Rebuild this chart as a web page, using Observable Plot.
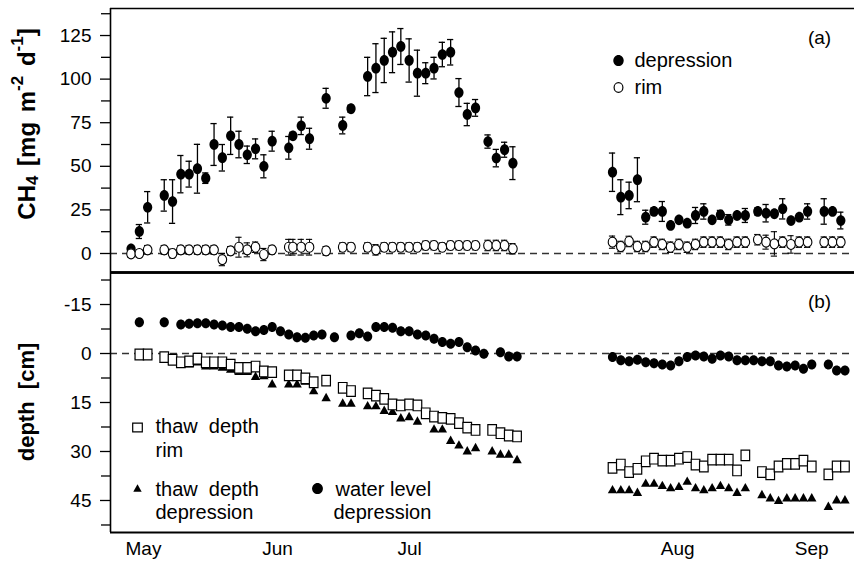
<!DOCTYPE html>
<html><head><meta charset="utf-8">
<script src="https://cdn.jsdelivr.net/npm/d3@7"></script>
<script src="https://cdn.jsdelivr.net/npm/@observablehq/plot@0.6"></script>
<style>
body{margin:0;background:#fff;}
#chart{width:854px;height:563px;position:relative;background:#fff;}
#chart svg{display:block;}
#chart text{white-space:pre;}
</style></head><body><div id="chart"></div>
<script>
// ---------- data (x = day index, 0 = label "May") ----------
const ch4Day = [-3,-1,1,5,7,9,11,13,15,17,19,21,23,25,27,29,31,35,36,38,40,44,48,50,54,56,58,60,62,64,66,68,70,72,74,76,78,80,83,85,87,89,
  113,115,117,119,121,123,125,127,129,131,133,135,137,139,141,143,145,148,150,152,154,156,158,160,164,166,168];
const ch4Dep = [2.7,12.6,26.5,33.3,29.8,45.5,45.5,48.6,43.2,62.5,54.9,67.5,62.5,56.6,60,50,64.4,60.6,67.5,73.2,65.8,89,73.4,83,101.5,106.3,110.7,115.4,118.7,110.7,103.4,103.4,106.3,114.1,115.4,92.3,79.7,83.5,64.2,54.7,59.5,51.8,
  46.6,32.3,33.3,42.3,20.8,24.1,24.1,16.1,19.3,17.4,21.8,24.1,19.3,22.2,19.3,21.8,21.8,24.1,23.1,22.8,25.6,18.9,20.8,24.1,24.1,24.1,18.9];
const ch4DepErr = [0,4,9,9,12.5,10.7,7.4,14,3,12,7.6,10.7,7.6,5,5.7,6.6,5.7,6.5,2,5,6,5.7,4.8,2,11,14,12.7,11.7,10.3,12.4,13.2,6,6.2,7,7.3,8,6.4,4.8,3.8,5,4.3,9.4,
  11,10,7.6,12.6,4,2,5.7,1,1,1,4.6,4.4,1,2.5,3,1,4,2,5,1,5.8,1,1,4.4,7.3,1,4.8];
const ch4Rim = [-0.2,0,2.1,2.1,0,2.1,2.1,2.1,2.1,2.1,-3.5,1.5,3.6,2.1,3.6,-0.6,2.1,3.6,3.6,3.6,3.6,1.5,3.6,3.6,3.6,2.1,3.6,3.6,3.6,3.6,3.6,4.6,4.6,3.6,4.6,4.6,4.6,4.6,4.6,4.6,4.6,2.7,
  6.5,4.0,6.9,4.0,4.0,6.5,5.2,3.6,5.2,3.6,5.2,6.5,6.5,6.5,5.2,6.5,6.5,7.9,6.5,5.5,6.5,5.2,6.5,6.5,6.5,6.5,6.5];
const ch4RimErr = [2,2,2.5,2.5,2.5,2.5,2.5,2.5,2.5,2.5,3.5,2.5,5.7,4,3,3.5,2.5,4.5,4.5,4.5,4.5,2.5,2.5,2.5,2.5,3,2.5,2.5,2.5,2.5,2.5,2.5,2.5,2.5,2.5,2.5,2.5,2.5,3,3,3,3,
  3.5,3,3,3,3,3,3,3,3,3,3,3,3,3,3,3,3,3,4,7,3,5,3,3,3,3,3];

const wlDay = [-1,5,9,11,13,15,17,19,21,23,25,27,29,31,33,35,37,39,41,43,46,50,52,54,56,58,60,62,64,66,68,70,72,74,76,78,80,82,86,88,90,
  113,115,117,119,121,123,125,127,129,131,133,135,137,139,141,143,145,147,149,151,153,155,157,159,161,165,167,169];
const wlDep = [-9.6,-9.6,-8.9,-9.1,-9.3,-9.3,-8.9,-8.6,-8.1,-8.1,-7.6,-6.8,-7.2,-8.1,-6.8,-5.8,-5.0,-4.8,-5.5,-5.8,-5.0,-5.5,-6.2,-5.2,-8.1,-8.1,-7.9,-6.8,-6.8,-5.8,-5.5,-4.5,-3.5,-3.0,-3.5,-1.9,-0.9,0.1,-0.4,0.9,0.9,
  1.1,2.1,2.4,1.9,2.7,3.0,3.4,3.7,2.4,1.1,0.6,0.9,1.6,0.6,0.9,2.1,2.1,2.1,2.4,2.4,3.7,4.0,3.7,4.7,3.4,3.4,5.2,5.2];

const thawRimDay = [-1,1,5,7,9,11,13,15,17,19,21,23,25,27,29,31,35,37,39,41,44,48,50,54,56,58,60,62,64,66,68,70,72,74,76,78,80,84,86,88,90,
  113,115,117,119,121,123,125,127,129,131,133,135,137,139,141,143,145,149,151,153,155,157,159,161,165,167,169];
const thawRim = [0.3,0.3,1.1,1.9,2.7,2.4,1.6,2.7,2.7,2.7,3.4,4.4,4.4,4.0,5.5,5.7,6.7,6.7,7.6,8.8,8.3,10.5,11.5,12.2,12.9,13.9,15.6,15.9,15.6,15.9,18.3,19.3,19.7,20.0,21.3,22.7,23.4,23.4,24.4,25.1,25.4,
  35.0,34.0,36.3,35.3,33.0,32.2,32.8,32.8,32.2,31.7,34.0,34.6,32.5,32.5,32.5,35.8,31.2,36.3,37.0,34.6,33.8,33.8,32.8,34.6,37.0,34.6,34.6];

const thawDepDay = [-1,1,5,7,9,11,13,15,17,19,21,23,25,27,29,31,35,37,39,41,44,48,50,54,56,58,60,62,64,66,70,72,74,76,78,80,84,86,88,90,
  113,115,117,119,121,123,125,127,129,131,133,135,137,139,141,143,145,149,151,153,155,157,159,161,165,167,169];
const thawDep = [0.6,0.6,1.8,2.6,3.2,3.2,2.6,3.8,3.8,4.2,4.8,5.5,5.5,7.0,6.8,9.3,9.3,9.3,8.5,11.4,13.5,15.2,15.2,16.0,16.0,17.4,17.7,19.7,19.3,20.7,23.1,23.1,26.6,28.0,29.8,28.8,29.8,30.8,30.8,32.5,
  41.7,41.7,41.7,42.5,39.7,39.7,40.4,41.1,40.7,39.1,41.1,41.7,41.1,40.4,41.1,42.5,41.1,43.2,44.2,45.0,44.2,44.2,44.2,44.2,46.8,44.8,44.8];

const monthLabels = ["May","Jun","Jul","Aug","Sep"];
const monthDays = [0,32.3,64.1,128.7,161];
const ch4Ticks = [0,25,50,75,100,125];
const ch4Minor = [12.5,37.5,62.5,87.5,112.5,137.5];
const depthTicks = [-15,0,15,30,45];
const depthMinor = [-22.5,-7.5,7.5,22.5,37.5,52.5];
const legendA = ["depression","rim"];
const legendB = [["thaw  depth","rim"],["thaw  depth","depression"],["water level","depression"]];

// ---------- layout ----------
const W = 854, ML = 110, FONT = "'Liberation Sans', Arial, sans-serif";
const xDomain = [-7.95, 171.3];
const ch4Domain = [-10.9, 140.5];
const depthDomain = [-24.8, 54.8];
const TOP_H = 272, BOT_H = 291, BOT_MB = 31;

// custom symbols
function ellipseSym(rx, ry) {
  const k = 0.5523;
  return {draw(c) {
    c.moveTo(rx, 0);
    c.bezierCurveTo(rx, ry*k, rx*k, ry, 0, ry);
    c.bezierCurveTo(-rx*k, ry, -rx, ry*k, -rx, 0);
    c.bezierCurveTo(-rx, -ry*k, -rx*k, -ry, 0, -ry);
    c.bezierCurveTo(rx*k, -ry, rx, -ry*k, rx, 0);
    c.closePath();
  }};
}
const dotSym = ellipseSym(4.6, 5.4);
const ringSym = ellipseSym(4.3, 5.0);
const wlSym = ellipseSym(4.6, 5.0);
const sqSym = {draw(c){ c.rect(-4.3, -5.3, 8.6, 10.6); }};
const triSym = {draw(c){ c.moveTo(0,-4.8); c.lineTo(4.7,3.6); c.lineTo(-4.7,3.6); c.closePath(); }};

const ch4Data = ch4Day.map((d,i)=>({day:d, dep:ch4Dep[i], depErr:ch4DepErr[i], rim:ch4Rim[i], rimErr:ch4RimErr[i]}));
const depErrData = ch4Data.filter(d=>d.depErr>0);
const wlData = wlDay.map((d,i)=>({day:d, v:wlDep[i]}));
const trData = thawRimDay.map((d,i)=>({day:d, v:thawRim[i]}));
const tdData = thawDepDay.map((d,i)=>({day:d, v:thawDep[i]}));
const CAP = 0.75;

const style = {fontFamily: FONT, fontSize: "19px", color: "#000", background: "#fff", overflow: "visible"};
const fmt = d => String(d);
const at = (px, py, top) => ({frameAnchor: "top-left", dx: px - ML, dy: py - top});

const topPlot = Plot.plot({
  width: W, height: TOP_H, marginTop: 8, marginBottom: 0, marginLeft: ML, marginRight: 0,
  x: {domain: xDomain, axis: null},
  y: {domain: ch4Domain},
  style,
  marks: [
    Plot.axisY({ticks: ch4Ticks, tickSize: 10, tickPadding: 9, tickFormat: fmt, label: null, fontSize: 19, strokeWidth: 1.3}),
    Plot.axisY({ticks: ch4Minor, tickSize: 9, tickFormat: () => "", label: null, strokeWidth: 1.3}),
    Plot.ruleY([0], {stroke: "#333", strokeDasharray: "7,5", strokeWidth: 1.3}),
    Plot.ruleY([ch4Domain[1]], {strokeWidth: 1.6}),
    Plot.ruleY([ch4Domain[0]], {strokeWidth: 2.4}),
    Plot.ruleX([xDomain[0]], {strokeWidth: 1.6}),
    // depression error bars
    Plot.ruleX(depErrData, {x: "day", y1: d => d.dep - d.depErr, y2: d => d.dep + d.depErr, strokeWidth: 1.3}),
    Plot.ruleY(depErrData, {y: d => d.dep + d.depErr, x1: d => d.day - CAP, x2: d => d.day + CAP, strokeWidth: 1.3}),
    Plot.ruleY(depErrData, {y: d => d.dep - d.depErr, x1: d => d.day - CAP, x2: d => d.day + CAP, strokeWidth: 1.3}),
    Plot.dot(ch4Data, {x: "day", y: "dep", symbol: dotSym, fill: "#000", stroke: "none"}),
    // rim error bars
    Plot.ruleX(ch4Data, {x: "day", y1: d => d.rim - d.rimErr, y2: d => d.rim + d.rimErr, strokeWidth: 1.1}),
    Plot.ruleY(ch4Data, {y: d => d.rim + d.rimErr, x1: d => d.day - CAP, x2: d => d.day + CAP, strokeWidth: 1.1}),
    Plot.ruleY(ch4Data, {y: d => d.rim - d.rimErr, x1: d => d.day - CAP, x2: d => d.day + CAP, strokeWidth: 1.1}),
    Plot.dot(ch4Data, {x: "day", y: "rim", symbol: ringSym, fill: "#fff", stroke: "#000", strokeWidth: 1.1}),
    // legend (a)
    Plot.dot([legendA[0]], {...at(618, 60, 8), symbol: ellipseSym(5.2, 5.6), fill: "#000", stroke: "none"}),
    Plot.dot([legendA[1]], {...at(618, 87, 8), symbol: ellipseSym(4.4, 4.8), fill: "#fff", stroke: "#000", strokeWidth: 1.2}),
    Plot.text([legendA[0]], {...at(634, 60, 8), text: d => d, textAnchor: "start", lineAnchor: "middle", fontSize: 20}),
    Plot.text([legendA[1]], {...at(634, 87, 8), text: d => d, textAnchor: "start", lineAnchor: "middle", fontSize: 20}),
    Plot.text(["(a)"], {...at(819, 37, 8), text: d => d, textAnchor: "middle", lineAnchor: "middle", fontSize: 19})
  ]
});

const monthMap = new Map(monthDays.map((d,i)=>[d, monthLabels[i]]));
const B = TOP_H;
const botPlot = Plot.plot({
  width: W, height: BOT_H, marginTop: 0, marginBottom: BOT_MB, marginLeft: ML, marginRight: 0,
  x: {domain: xDomain},
  y: {domain: depthDomain, reverse: true},
  style,
  marks: [
    Plot.axisY({ticks: depthTicks, tickSize: 10, tickPadding: 9, tickFormat: fmt, label: null, fontSize: 19, strokeWidth: 1.3}),
    Plot.axisY({ticks: depthMinor, tickSize: 9, tickFormat: () => "", label: null, strokeWidth: 1.3}),
    Plot.axisX({ticks: monthDays, tickFormat: d => monthMap.get(d), tickSize: 0, tickPadding: 9, label: null, fontSize: 19}),
    Plot.ruleY([0], {stroke: "#333", strokeDasharray: "7,5", strokeWidth: 1.3}),
    Plot.ruleY([depthDomain[0]], {strokeWidth: 2.4}),
    Plot.ruleY([depthDomain[1]], {strokeWidth: 2}),
    Plot.ruleX([xDomain[0]], {strokeWidth: 1.6}),
    Plot.dot(tdData, {x: "day", y: "v", symbol: triSym, fill: "#000", stroke: "none"}),
    Plot.dot(trData, {x: "day", y: "v", symbol: sqSym, fill: "#fff", stroke: "#000", strokeWidth: 1.2}),
    Plot.dot(wlData, {x: "day", y: "v", symbol: wlSym, fill: "#000", stroke: "none"}),
    // legend (b)
    Plot.dot([legendB[0][0]], {...at(137, 427, B), symbol: {draw(c){ c.rect(-4.8,-4.4,9.6,8.8); }}, fill: "#fff", stroke: "#000", strokeWidth: 1.2}),
    Plot.dot([legendB[1][0]], {...at(137, 488, B), symbol: {draw(c){ c.moveTo(0,-4.2); c.lineTo(4.2,3.2); c.lineTo(-4.2,3.2); c.closePath(); }}, fill: "#000", stroke: "none"}),
    Plot.dot([legendB[2][0]], {...at(317, 488, B), symbol: ellipseSym(5.4, 5.6), fill: "#000", stroke: "none"}),
    Plot.text([legendB[0][0]], {...at(155, 426, B), text: d => d, textAnchor: "start", lineAnchor: "middle", fontSize: 20}),
    Plot.text([legendB[0][1]], {...at(155, 450, B), text: d => d, textAnchor: "start", lineAnchor: "middle", fontSize: 20}),
    Plot.text([legendB[1][0]], {...at(155, 489, B), text: d => d, textAnchor: "start", lineAnchor: "middle", fontSize: 20}),
    Plot.text([legendB[1][1]], {...at(155, 512, B), text: d => d, textAnchor: "start", lineAnchor: "middle", fontSize: 20}),
    Plot.text([legendB[2][0]], {...at(335, 489, B), text: d => d, textAnchor: "start", lineAnchor: "middle", fontSize: 20}),
    Plot.text([legendB[2][1]], {...at(333, 512, B), text: d => d, textAnchor: "start", lineAnchor: "middle", fontSize: 20}),
    Plot.text(["(b)"], {...at(819, 301, B), text: d => d, textAnchor: "middle", lineAnchor: "middle", fontSize: 19})
  ]
});

function addYLabel(svg, x, y, size, parts, wordSpacing) {
  const t = d3.select(svg).append("text")
    .attr("transform", `translate(${x},${y}) rotate(-90)`)
    .attr("text-anchor", "middle").attr("dominant-baseline", "central")
    .attr("font-family", FONT).attr("font-weight", "bold").attr("font-size", size).attr("fill", "#000")
    .style("word-spacing", wordSpacing + "px");
  let shift = 0;
  parts.forEach(p => {
    const s = p.dy || 0;
    const ts = t.append("tspan").attr("dy", s - shift).text(p.t);
    if (p.size) ts.attr("font-size", p.size);
    shift = s;
  });
}
addYLabel(topPlot, 26, 124, 24, [
  {t: "CH"}, {t: "4", dy: 6, size: 17}, {t: " [mg m"}, {t: "-2", dy: -9, size: 17},
  {t: " d"}, {t: "-1", dy: -9, size: 17}, {t: "]"}
], 3);
addYLabel(botPlot, 26, 402 - B, 22, [{t: "depth  [cm]"}], 0);

const chart = document.getElementById("chart");
chart.appendChild(topPlot);
chart.appendChild(botPlot);
</script></body></html>
